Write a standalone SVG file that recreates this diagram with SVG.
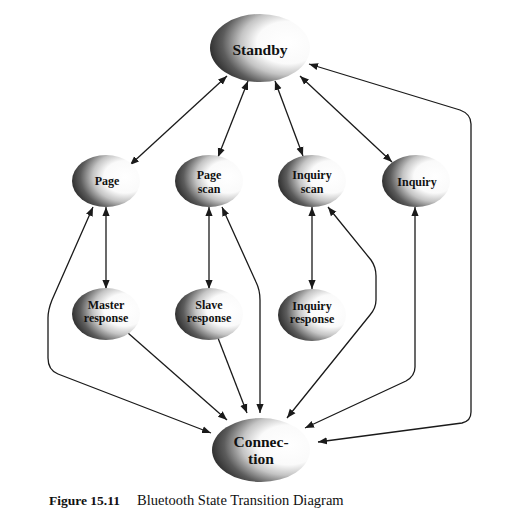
<svg xmlns="http://www.w3.org/2000/svg" width="509" height="522" viewBox="0 0 509 522">
<defs>
<radialGradient id="shade" cx="0.78" cy="0.42" r="0.82" fx="0.78" fy="0.42">
<stop offset="0" stop-color="#ffffff"/>
<stop offset="0.38" stop-color="#fafafa"/>
<stop offset="0.58" stop-color="#c4c4c4"/>
<stop offset="0.8" stop-color="#5c5c5c"/>
<stop offset="1" stop-color="#262626"/>
</radialGradient>
<marker id="arr" viewBox="0 0 10 10" refX="10" refY="5" markerWidth="9" markerHeight="9" markerUnits="userSpaceOnUse" orient="auto-start-reverse">
<path d="M0,1 L10,5 L0,9 Z" fill="#1a1a1a"/>
</marker>
<style>
.node ellipse{fill:url(#shade);stroke:none}
.lbl{font-family:"Liberation Serif","Times New Roman",serif;font-weight:bold;font-size:12px;fill:#111;text-anchor:middle}
.big{font-size:15.5px}
.edge{fill:none;stroke:#1a1a1a;stroke-width:1.3}
.both{marker-start:url(#arr);marker-end:url(#arr)}
.one{marker-end:url(#arr)}
.cap{font-family:"Liberation Serif","Times New Roman",serif;fill:#111}
</style>
</defs>
<rect width="509" height="522" fill="#ffffff"/>
<g id="connectors">
<path class="edge both" d="M227,76 L130,165"/>
<path class="edge both" d="M248,81 L218,157"/>
<path class="edge both" d="M275,81 L303,156"/>
<path class="edge both" d="M300,76 L392,162"/>
<path class="edge both" d="M309,64 L460,110 Q471,114 471,124 L471,412 Q471,421 462,423 L318,442"/>
<path class="edge both" d="M106,207 L106,289"/>
<path class="edge both" d="M209,207 L209,289"/>
<path class="edge both" d="M312,207 L312,289"/>
<path class="edge both" d="M93,207 L52,300 Q48,310 48,318 L48,358 Q48,370 58,374 L211,433"/>
<path class="edge one" d="M128,333 L227,420"/>
<path class="edge one" d="M218,338 L247,413"/>
<path class="edge both" d="M222,207 L256,282 Q260,290 260,300 L260,413"/>
<path class="edge both" d="M328,207 L371,260 Q376,267 376,276 L376,300 Q376,308 370,315 L287,418"/>
<path class="edge both" d="M415,207 L415,367 Q415,376 406,381 L305,428"/>
</g>
<g id="standby" class="node"><ellipse cx="260" cy="48" rx="50" ry="34"/><text class="lbl big" x="260" y="55">Standby</text></g>
<g id="page" class="node"><ellipse cx="106" cy="181" rx="34" ry="26"/><text class="lbl" x="107" y="185">Page</text></g>
<g id="pagescan" class="node"><ellipse cx="209" cy="181" rx="34" ry="26"/><text class="lbl" x="209" y="179">Page</text><text class="lbl" x="209" y="193">scan</text></g>
<g id="inquiryscan" class="node"><ellipse cx="312" cy="181" rx="34" ry="26"/><text class="lbl" x="312" y="179">Inquiry</text><text class="lbl" x="312" y="193">scan</text></g>
<g id="inquiry" class="node"><ellipse cx="416" cy="181" rx="34" ry="26"/><text class="lbl" x="417" y="186">Inquiry</text></g>
<g id="masterresponse" class="node"><ellipse cx="106" cy="314" rx="34" ry="26"/><text class="lbl" x="106" y="309">Master</text><text class="lbl" x="106" y="322">response</text></g>
<g id="slaveresponse" class="node"><ellipse cx="209" cy="314" rx="34" ry="26"/><text class="lbl" x="209" y="309">Slave</text><text class="lbl" x="209" y="322">response</text></g>
<g id="inquiryresponse" class="node"><ellipse cx="312" cy="315" rx="34" ry="26"/><text class="lbl" x="312" y="310">Inquiry</text><text class="lbl" x="312" y="323">response</text></g>
<g id="connection" class="node"><ellipse cx="261" cy="450" rx="49" ry="32"/><text class="lbl big" x="261" y="447">Connec-</text><text class="lbl big" x="261" y="464">tion</text></g>
<text class="cap" x="49" y="505" font-size="13.5" font-weight="bold">Figure 15.11</text>
<text class="cap" x="137" y="505" font-size="14.5">Bluetooth State Transition Diagram</text>
</svg>
